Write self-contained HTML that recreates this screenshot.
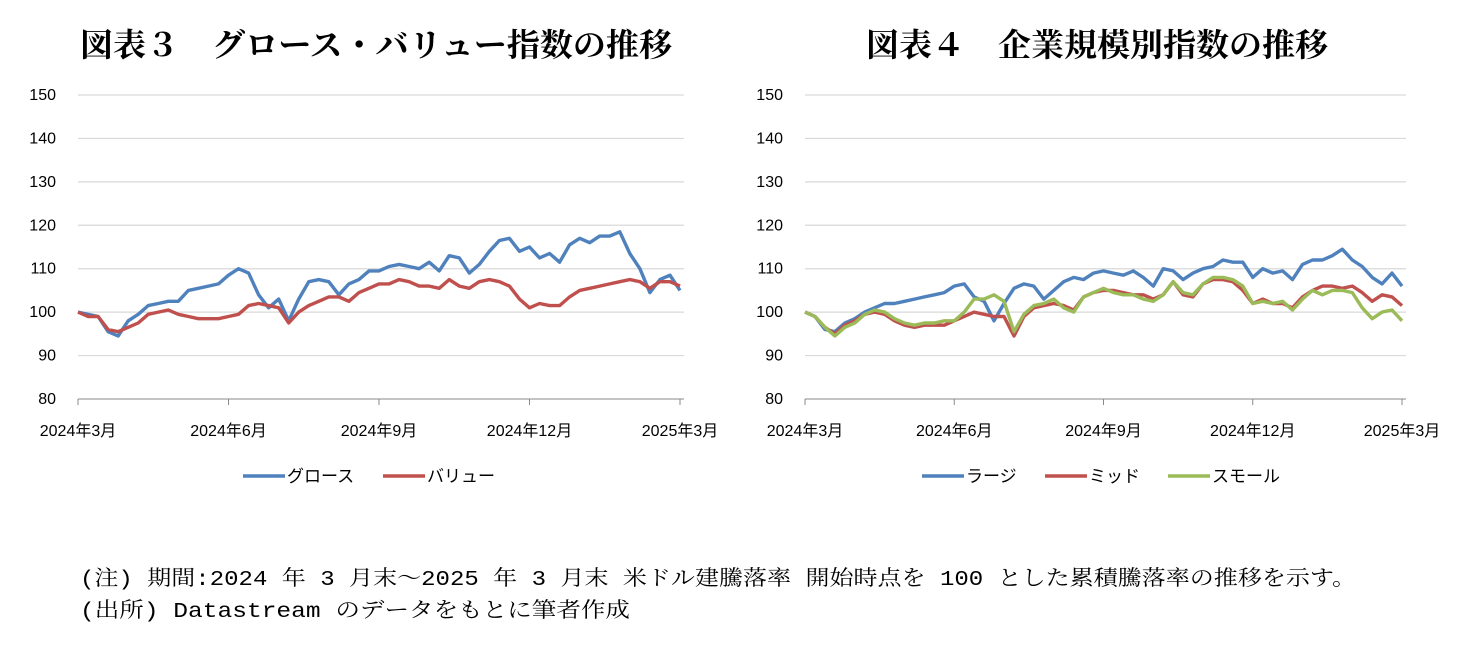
<!DOCTYPE html>
<html><head><meta charset="utf-8"><style>
html,body{margin:0;padding:0;background:#fff;}
svg{display:block;}
.t{font-family:"Liberation Serif","Noto Serif CJK SC","Noto Sans CJK JP",serif;font-weight:bold;font-size:32px;fill:#000;}
.tk{font-family:"Liberation Sans","Noto Sans CJK JP",sans-serif;font-size:16px;fill:#000;}
.lg{font-family:"Liberation Sans","Noto Sans CJK JP",sans-serif;font-size:17px;fill:#000;}
.nt{font-family:"Liberation Mono","Noto Serif CJK SC","Noto Sans CJK JP",serif;font-size:21px;fill:#000;}
</style></head><body>
<svg id="c" width="1473" height="650">
<text class="t" x="80" y="56" textLength="592" lengthAdjust="spacingAndGlyphs">図表３　グロース・バリュー指数の推移</text>
<text class="t" x="866" y="56" textLength="462" lengthAdjust="spacingAndGlyphs">図表４　企業規模別指数の推移</text>
<text class="nt" x="80" y="585" textLength="1276" lengthAdjust="spacingAndGlyphs">(注) 期間:2024 年 3 月末～2025 年 3 月末 米ドル建騰落率 開始時点を 100 とした累積騰落率の推移を示す。</text>
<text class="nt" x="80" y="617" textLength="550" lengthAdjust="spacingAndGlyphs">(出所) Datastream のデータをもとに筆者作成</text>
</svg>
<script>
const yTicks=[80,90,100,110,120,130,140,150];
const xLabels=["2024年3月","2024年6月","2024年9月","2024年12月","2025年3月"];
const growth=[100,99.5,99,95.5,94.5,98,99.5,101.5,102,102.5,102.5,105,105.5,106,106.5,108.5,110,109,104,101,103,98,103,107,107.5,107,104,106.5,107.5,109.5,109.5,110.5,111,110.5,110,111.5,109.5,113,112.5,109,111,114,116.5,117,114,115,112.5,113.5,111.5,115.5,117,116,117.5,117.5,118.5,113.5,110,104.5,107.5,108.5,105];
const value=[100,99,99,96,95.5,96.5,97.5,99.5,100,100.5,99.5,99,98.5,98.5,98.5,99,99.5,101.5,102,101.5,101,97.5,100,101.5,102.5,103.5,103.5,102.5,104.5,105.5,106.5,106.5,107.5,107,106,106,105.5,107.5,106,105.5,107,107.5,107,106,103,101,102,101.5,101.5,103.5,105,105.5,106,106.5,107,107.5,107,105.5,107,107,106];
const large=[100,99,96,95.5,97.5,98.5,100,101,102,102,102.5,103,103.5,104,104.5,106,106.5,103.5,102.5,98,102,105.5,106.5,106,103,105,107,108,107.5,109,109.5,109,108.5,109.5,108,106,110,109.5,107.5,109,110,110.5,112,111.5,111.5,108,110,109,109.5,107.5,111,112,112,113,114.5,112,110.5,108,106.5,109,106];
const mid=[100,99,96.5,95,97,98,99.5,100,99.5,98,97,96.5,97,97,97,98,99,100,99.5,99,99,94.5,99,101,101.5,102,101.5,100.5,103.5,104.5,105,105,104.5,104,104,103,104,107,104,103.5,106.5,107.5,107.5,107,105,102,103,102,102,101,103.5,105,106,106,105.5,106,104.5,102.5,104,103.5,101.5];
const small=[100,99,96.5,94.5,96.5,97.5,99.5,100.5,100,98.5,97.5,97,97.5,97.5,98,98,100,103,103,104,102.5,95.5,99.5,101.5,102,103,101,100,103.5,104.5,105.5,104.5,104,104,103,102.5,104,107,104.5,104,106.5,108,108,107.5,106,102,102.5,102,102.5,100.5,103,105,104,105,105,104.5,101,98.5,100,100.5,98];

const NS="http://www.w3.org/2000/svg";
const svg=document.getElementById('c');
function mk(tag,attrs){const e=document.createElementNS(NS,tag);for(const k in attrs)e.setAttribute(k,attrs[k]);svg.appendChild(e);return e;}

function chart(p,series,colors,names,legX,prefix){
  const x0=p.x0,x1=p.x1,yTop=95,yBot=399;
  const ys=v=>yBot-(v-80)/(150-80)*(yBot-yTop);
  const n=series[0].length;
  const xs=i=>x0+i*(x1-x0)/(n-1);
  yTicks.forEach(t=>{
    if(t>80){const g=mk('line',{x1:x0,x2:x1+4,y1:ys(t),y2:ys(t),stroke:'#d9d9d9','stroke-width':1.2});
    
    }
    const l=mk('text',{x:x0-22,y:ys(t)+5,'text-anchor':'end',class:'tk'});l.textContent=t;
    
    
  });
  const ax=mk('line',{x1:x0,x2:x1+4,y1:yBot,y2:yBot,stroke:'#888','stroke-width':1});
  
  
  xLabels.forEach((s,i)=>{
    const xx=x0+i*(x1-x0)/4;
    const tk=mk('line',{x1:xx,x2:xx,y1:yBot,y2:yBot+6,stroke:'#888'});
    
    
    const t=mk('text',{x:xx,y:yBot+37,'text-anchor':'middle',class:'tk'});t.textContent=s;
    
    
  });
  series.forEach((d,si)=>{
    const pts=d.map((v,i)=>xs(i).toFixed(1)+','+ys(v).toFixed(1)).join(' ');
    const pl=mk('polyline',{points:pts,fill:'none',stroke:colors[si],'stroke-width':3.4,'stroke-linejoin':'round'});
    
    
  });
  let lx=legX;
  names.forEach((nm,si)=>{
    const l=mk('line',{x1:lx,x2:lx+42,y1:476,y2:476,stroke:colors[si],'stroke-width':3.5});
    
    
    const t=mk('text',{x:lx+44,y:482,class:'lg'});t.textContent=nm;
    
    
    lx+=44+nm.length*17+28;
  });
}
chart({x0:78,x1:680},[growth,value],['#4f81bd','#c0504d'],['グロース','バリュー'],243,'chart3');
chart({x0:805,x1:1402},[large,mid,small],['#4f81bd','#c0504d','#9bbb59'],['ラージ','ミッド','スモール'],922,'chart4');
</script>
</body></html>
